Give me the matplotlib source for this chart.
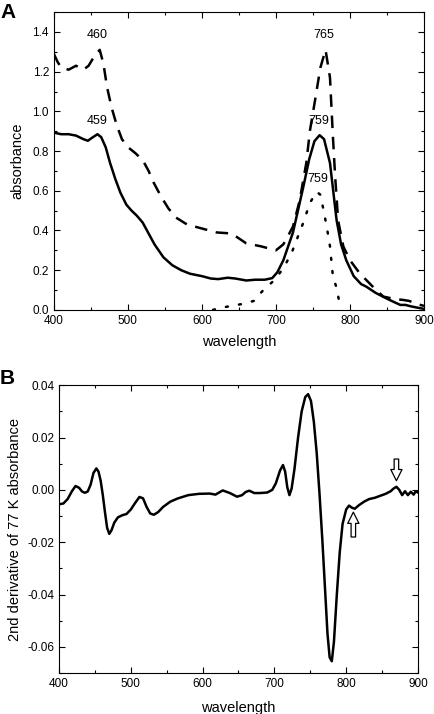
import matplotlib
matplotlib.use("Agg")
import matplotlib.pyplot as plt
from matplotlib.ticker import MultipleLocator

plt.rcParams.update({
    'font.family': ['Liberation Sans', 'DejaVu Sans'],
    'font.size': 9,
    'xtick.direction': 'in',
    'ytick.direction': 'in',
    'xtick.top': True,
    'ytick.right': True,
})

# Panel A: absorbance spectra
wl_solid = [400, 410, 420, 430, 440, 446, 452, 459, 464, 470, 476, 483, 490, 498, 505, 512, 520,
            528, 536, 548, 560, 572, 584, 600, 612, 622, 635, 645, 660, 672, 685, 695, 702, 710,
            723, 737, 745, 752, 759, 765, 773, 782, 788, 795, 805, 815, 822, 835, 848, 858,
            868, 875, 882, 890, 900]
abs_solid = [0.893, 0.885, 0.885, 0.878, 0.86, 0.852, 0.868, 0.885, 0.87, 0.82, 0.74, 0.66, 0.59,
             0.53, 0.5, 0.475, 0.44, 0.385, 0.33, 0.265, 0.225, 0.2, 0.182, 0.17, 0.158, 0.155,
             0.162, 0.158, 0.148, 0.152, 0.152, 0.16, 0.19, 0.25, 0.39, 0.62, 0.76, 0.85,
             0.88, 0.86, 0.74, 0.45, 0.33, 0.25, 0.17, 0.13, 0.117, 0.085, 0.06, 0.042,
             0.025, 0.025, 0.018, 0.012, 0.005]

wl_dash = [400, 405, 410, 420, 430, 440, 447, 455, 462, 467, 472, 478, 485, 492, 500, 510, 520,
           528, 535, 545, 555, 565, 580, 600, 620, 640, 650, 660, 680, 700, 710, 716, 723, 732,
           741, 746, 753, 760, 767, 773, 777, 780, 784, 791, 800, 813, 830, 845, 860,
           872, 880, 890, 900]
abs_dash = [1.29, 1.25, 1.22, 1.21, 1.23, 1.21, 1.23, 1.28, 1.31, 1.24, 1.12, 1.02, 0.93, 0.86,
            0.82, 0.79, 0.755, 0.7, 0.64, 0.57, 0.51, 0.465, 0.43, 0.41, 0.39, 0.385, 0.36, 0.335,
            0.32, 0.3, 0.33, 0.37, 0.42, 0.55, 0.74, 0.905, 1.06, 1.22, 1.31, 1.17, 0.87,
            0.67, 0.45, 0.32, 0.25, 0.185, 0.12, 0.067, 0.055, 0.05, 0.045, 0.03, 0.02]

wl_dot = [615, 625, 640, 655, 670, 683, 698, 710, 721, 737, 746, 755, 760, 765, 769, 773, 777,
          782, 785]
abs_dot = [0.0, 0.01, 0.02, 0.03, 0.045, 0.1, 0.15, 0.21, 0.285, 0.44, 0.54, 0.595, 0.58,
           0.49, 0.41, 0.32, 0.167, 0.11, 0.05]

peak_labels = ["460", "765", "459", "759", "759"]
peak_x = [459, 765, 458, 758, 757]
peak_y = [1.385, 1.385, 0.95, 0.95, 0.66]

# Panel B: 2nd derivative of 77 K absorbance
wl_deriv = [400, 406, 412, 418, 423, 428, 432, 436, 440, 444, 448, 452, 455, 458, 461, 464, 467,
            470, 473, 477, 482, 488, 494, 500, 506, 512, 517, 522, 527, 532, 538, 545, 555, 565,
            580, 595, 610, 618, 628, 638, 648, 655, 660, 665, 672, 680, 690, 697, 702, 708, 712,
            715, 718, 721, 724, 728, 733, 738, 743, 747, 751, 755, 759, 763, 767, 771, 774, 777,
            780, 783, 787, 791, 795, 800, 804, 808, 812, 818, 825, 832, 840, 848, 855, 862, 866,
            870, 874, 878, 882, 886, 890, 894, 897, 900]
d2_deriv = [-0.0055, -0.0052, -0.0035, -0.0005, 0.0015, 0.0008, -0.0006, -0.0011, -0.0006, 0.002,
            0.0065, 0.0082, 0.007, 0.0035, -0.002, -0.0085, -0.0145, -0.0168, -0.0155, -0.0125,
            -0.0105, -0.0097, -0.0092, -0.0075, -0.005, -0.0027, -0.0032, -0.0065, -0.009,
            -0.0095, -0.0085, -0.0065, -0.0045, -0.0033, -0.002, -0.0015, -0.0014, -0.0018,
            -0.0002, -0.0012, -0.0026, -0.002, -0.0008, -0.0003, -0.0012, -0.0012, -0.001, 0.0,
            0.0025, 0.0075, 0.0095, 0.007, 0.001, -0.002, 0.0005, 0.008, 0.02, 0.03, 0.0355,
            0.0366, 0.034, 0.026, 0.014, -0.002, -0.02, -0.04, -0.055, -0.064, -0.0655, -0.058,
            -0.04, -0.024, -0.013, -0.0075, -0.006, -0.0068, -0.0072, -0.0058, -0.0045, -0.0035,
            -0.003, -0.0022, -0.0015, -0.0005, 0.0005, 0.0012, 0.0, -0.002, -0.0005, -0.002,
            -0.0007, -0.0018, -0.0005, -0.001]

arrow_tips = [(870, 0.0035), (810, -0.0085)]
arrow_tails = [(870, 0.0118), (810, -0.0180)]

fig = plt.figure(figsize=(4.34, 7.14), dpi=100)
ax1 = fig.add_axes([0.124, 0.566, 0.853, 0.417])
ax2 = fig.add_axes([0.136, 0.0574, 0.827, 0.403])

# Panel A
ax1.plot(wl_solid, abs_solid, color='black', linewidth=1.8)
ax1.plot(wl_dash, abs_dash, color='black', linewidth=1.8, dashes=(5, 3.5))
ax1.plot(wl_dot, abs_dot, color='black', linewidth=1.8, dashes=(0.8, 4.5), dash_capstyle='round')
for lab, x, y in zip(peak_labels, peak_x, peak_y):
    ax1.text(x, y, lab, ha='center', va='center', fontsize=9)
ax1.set_xlim(400, 900)
ax1.set_ylim(0, 1.5)
ax1.xaxis.set_major_locator(MultipleLocator(100))
ax1.xaxis.set_minor_locator(MultipleLocator(50))
ax1.yaxis.set_minor_locator(MultipleLocator(0.1))
ax1.set_yticks([0, 0.2, 0.4, 0.6, 0.8, 1.0, 1.2, 1.4])
ax1.set_xlabel("wavelength", fontsize=10.5, labelpad=6)
ax1.set_ylabel("absorbance", fontsize=10.5, labelpad=6)
fig.text(0.0, 0.983, "A", fontsize=15, fontweight='bold', va='center', ha='left')

# Panel B
ax2.plot(wl_deriv, d2_deriv, color='black', linewidth=1.8)
for tip, tail in zip(arrow_tips, arrow_tails):
    ax2.annotate('', xy=tip, xytext=tail,
                 arrowprops=dict(arrowstyle='simple,head_width=0.9,head_length=0.9,tail_width=0.36',
                                 fc='white', ec='black', lw=0.9, shrinkA=0, shrinkB=0))
ax2.set_xlim(400, 900)
ax2.set_ylim(-0.07, 0.04)
ax2.xaxis.set_major_locator(MultipleLocator(100))
ax2.xaxis.set_minor_locator(MultipleLocator(50))
ax2.yaxis.set_minor_locator(MultipleLocator(0.01))
ax2.set_yticks([-0.06, -0.04, -0.02, 0.0, 0.02, 0.04])
ax2.set_yticklabels(["-0.06", "-0.04", "-0.02", "0.00", "0.02", "0.04"])
ax2.set_xlabel("wavelength", fontsize=10.5, labelpad=8)
ax2.set_ylabel("2nd derivative of 77 K absorbance", fontsize=10.5, labelpad=4)
fig.text(0.0, 0.47, "B", fontsize=15, fontweight='bold', va='center', ha='left')

for ax in (ax1, ax2):
    ax.tick_params(which='major', length=4, width=0.8, labelsize=8.5)
    ax.tick_params(which='minor', length=2.5, width=0.8)
    for sp in ax.spines.values():
        sp.set_linewidth(0.8)

fig.savefig("out.png", dpi=100)
